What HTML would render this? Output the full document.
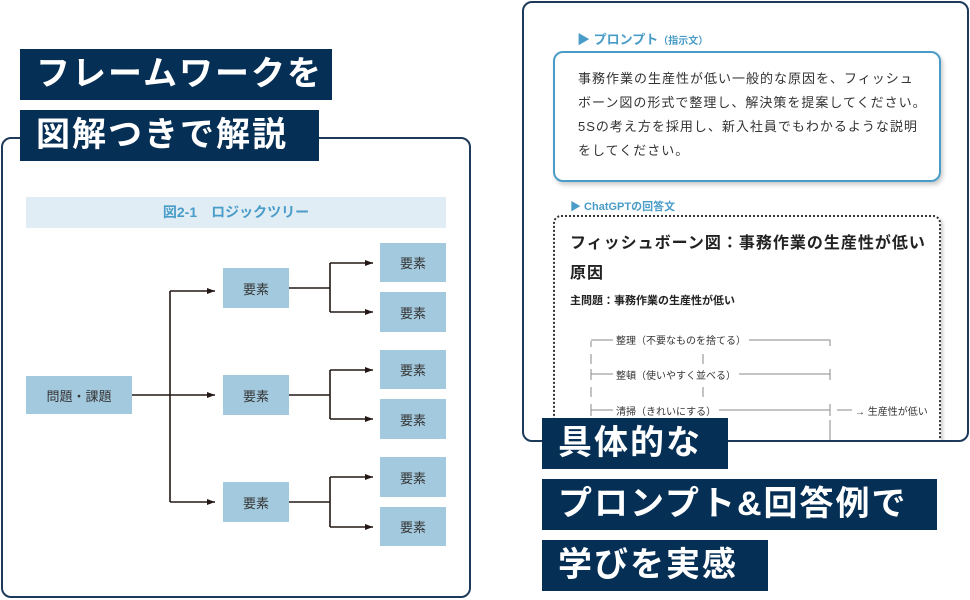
<!DOCTYPE html>
<html><head><meta charset="utf-8"><style>
*{margin:0;padding:0;box-sizing:border-box}
body{width:970px;height:600px;background:#fff;position:relative;overflow:hidden;font-family:"Liberation Sans","Noto Sans CJK JP",sans-serif}
.a{position:absolute}
.lbl{position:absolute;background:#052f55;color:#fff;font-weight:bold;font-size:34px;line-height:51px;letter-spacing:2px;padding-left:16px;white-space:nowrap}
.bx{position:absolute;background:#a3c9de;color:#333;font-size:13px;display:flex;align-items:center;justify-content:center}
.fb{position:absolute;font-size:10px;color:#333;white-space:nowrap;background:#fff;padding:0 3px}
</style></head><body>
<div class="a" style="left:1px;top:137px;width:470px;height:461px;border:2px solid #1e3a5a;border-radius:10px"></div>
<div class="lbl" style="left:20px;top:49px;width:312px">フレームワークを</div>
<div class="lbl" style="left:20px;top:110px;width:299px">図解つきで解説</div>
<div class="a" style="left:26px;top:197px;width:420px;height:31px;background:#e0edf5;color:#4a9cc8;font-weight:bold;font-size:14px;line-height:31px;text-align:center">図2-1　ロジックツリー</div>
<svg class="a" style="left:0;top:0" width="480" height="600">
<defs><marker id="m" markerWidth="8" markerHeight="6" refX="8" refY="3" orient="auto" markerUnits="userSpaceOnUse"><path d="M0,0L8,3L0,6z" fill="#231815"/></marker></defs>
<g stroke="#231815" stroke-width="1.6" fill="none">
<path d="M132,395H170M170,291V502"/>
<path d="M170,291H215" marker-end="url(#m)"/>
<path d="M170,395H215" marker-end="url(#m)"/>
<path d="M170,502H215" marker-end="url(#m)"/>
<path d="M289,288H330M330,263V312M289,395H330M330,370V419M289,502H330M330,477V527"/>
<path d="M330,263H373" marker-end="url(#m)"/>
<path d="M330,312H373" marker-end="url(#m)"/>
<path d="M330,370H373" marker-end="url(#m)"/>
<path d="M330,419H373" marker-end="url(#m)"/>
<path d="M330,477H373" marker-end="url(#m)"/>
<path d="M330,527H373" marker-end="url(#m)"/>
</g></svg>
<div class="bx" style="left:26px;top:376px;width:106px;height:38px">問題・課題</div>
<div class="bx" style="left:223px;top:268px;width:66px;height:40px">要素</div>
<div class="bx" style="left:223px;top:375px;width:66px;height:40px">要素</div>
<div class="bx" style="left:223px;top:482px;width:66px;height:40px">要素</div>
<div class="bx" style="left:380px;top:243px;width:66px;height:39px">要素</div>
<div class="bx" style="left:380px;top:292px;width:66px;height:40px">要素</div>
<div class="bx" style="left:380px;top:350px;width:66px;height:39px">要素</div>
<div class="bx" style="left:380px;top:399px;width:66px;height:40px">要素</div>
<div class="bx" style="left:380px;top:457px;width:66px;height:40px">要素</div>
<div class="bx" style="left:380px;top:507px;width:66px;height:39px">要素</div>

<div class="a" style="left:522px;top:1px;width:447px;height:441px;border:2px solid #1e3a5a;border-radius:10px;overflow:hidden">
<div class="a" style="left:29px;top:212px;width:388px;height:240px;border:2px dotted #333;border-bottom:none;border-radius:8px 8px 0 0;box-shadow:2px 2px 3px rgba(0,0,0,.2)"></div>
<svg class="a" style="left:-2px;top:317px" width="450" height="125"><g stroke="#888" stroke-width="1" fill="none">
<path d="M69,21V27M69,34V44M69,51V58M69,67V77M69,84V95M181,34V44M181,67V77"/>
<path d="M69,20H308V26M69,54H308M308,49V60M69,90H308M308,84V96M308,100V125M315,90H335"/>
<path d="M69,49V60M69,84V96"/></g></svg>
</div>
<div class="a" style="left:577px;top:29px;color:#4a9cc8;font-weight:bold;font-size:13px">▶ プロンプト<span style="font-size:10px">（指示文）</span></div>
<div class="a" style="left:553px;top:51px;width:388px;height:131px;border:2px solid #4a9cc8;border-radius:10px;box-shadow:2px 3px 4px rgba(0,0,0,.2);padding:14px 0 0 23px;font-size:13px;line-height:24px;color:#333;letter-spacing:1px">事務作業の生産性が低い一般的な原因を、フィッシュ<br>ボーン図の形式で整理し、解決策を提案してください。<br>5Sの考え方を採用し、新入社員でもわかるような説明<br>をしてください。</div>
<div class="a" style="left:570px;top:198px;color:#4a9cc8;font-weight:bold;font-size:11px">▶ ChatGPTの回答文</div>
<div class="a" style="left:570px;top:229px;font-size:16px;font-weight:bold;color:#222;line-height:30px;letter-spacing:1px">フィッシュボーン図：事務作業の生産性が低い<br>原因</div>
<div class="a" style="left:570px;top:292px;font-size:11px;font-weight:bold;color:#222">主問題：事務作業の生産性が低い</div>
<div class="fb" style="left:613px;top:332px">整理（不要なものを捨てる）</div>
<div class="fb" style="left:613px;top:367px">整頓（使いやすく並べる）</div>
<div class="fb" style="left:613px;top:403px">清掃（きれいにする）</div>
<div class="fb" style="left:852px;top:403px">→ 生産性が低い</div>
<div class="lbl" style="left:542px;top:418px;width:186px">具体的な</div>
<div class="lbl" style="left:542px;top:479px;width:395px">プロンプト&amp;回答例で</div>
<div class="lbl" style="left:542px;top:540px;width:226px">学びを実感</div>
</body></html>
